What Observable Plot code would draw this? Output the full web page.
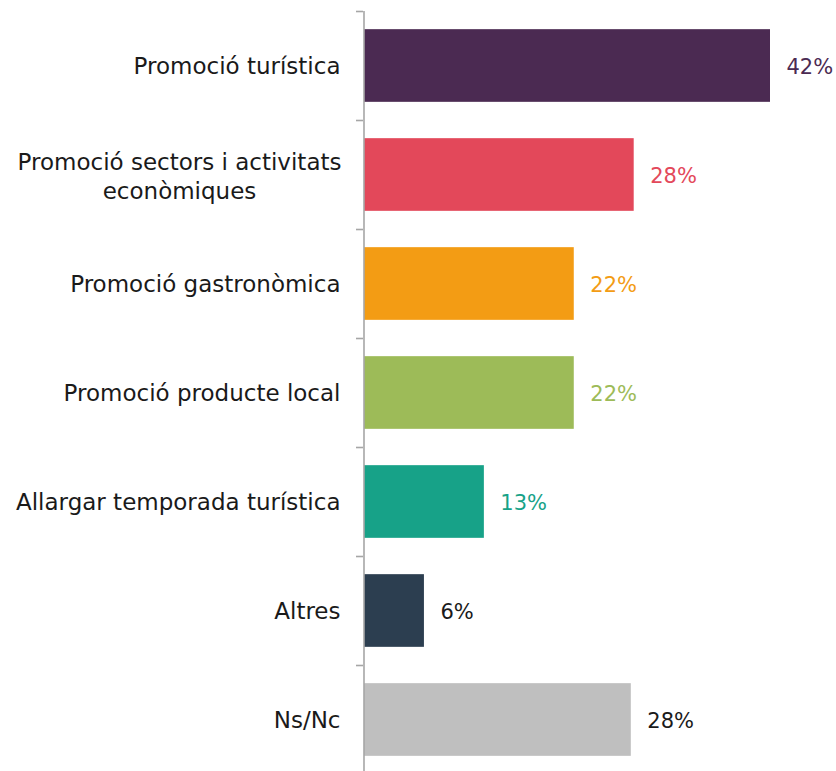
<!DOCTYPE html>
<html>
<head>
<meta charset="utf-8">
<script src="https://cdn.jsdelivr.net/npm/d3@7"></script>
<script src="https://cdn.jsdelivr.net/npm/@observablehq/plot@0.6"></script>
<style>
  html, body { margin: 0; padding: 0; background: #fff; overflow: hidden; }
</style>
</head>
<body>
<div id="chart"></div>
<script>
const categories = [
  "Promoció turística",
  "Promoció sectors i activitats\neconòmiques",
  "Promoció gastronòmica",
  "Promoció producte local",
  "Allargar temporada turística",
  "Altres",
  "Ns/Nc"
];
const values = [42, 27.9, 21.7, 21.7, 12.4, 6.2, 27.6];
const valueLabels = ["42%", "28%", "22%", "22%", "13%", "6%", "28%"];
const barColors = ["#4b2a52", "#e3485a", "#f39c14", "#9dbb58", "#17a288", "#2c3e50", "#bfbfbf"];
const labelColors = ["#4b2a52", "#e3485a", "#f39c14", "#9dbb58", "#17a288", "#1a1a1a", "#1a1a1a"];

const data = categories.map((c, i) => ({
  cat: c, value: values[i], label: valueLabels[i], bar: barColors[i], lab: labelColors[i]
}));

const FONT = "'DejaVu Sans', sans-serif";
const mTop = 11, H = 774, W = 836, mLeft = 364, mRight = 66;
const step = (H - mTop) / categories.length;

const chart = Plot.plot({
  width: W,
  height: H,
  marginLeft: mLeft,
  marginRight: mRight,
  marginTop: mTop,
  marginBottom: 0,
  style: {fontFamily: FONT, fontSize: "22px", color: "#1a1a1a", background: "#fff"},
  x: {domain: [0, 42], axis: null},
  y: {domain: categories, paddingInner: 1 / 3, paddingOuter: 1 / 6, round: false, axis: null},
  marks: [
    Plot.barX(data, {y: "cat", x: "value", fill: "bar"}),
    Plot.ruleX([0], {stroke: "#a6a6a6", strokeWidth: 1.6, dx: -0.5}),
    Plot.tickY(data, {y: "cat", stroke: "#a6a6a6", strokeWidth: 1.6, dy: -step / 2,
      insetLeft: -8, insetRight: W - mLeft - mRight + 1}),
    Plot.text(data.filter(d => !d.cat.includes("\n")), {
      y: "cat", text: "cat", frameAnchor: "left", textAnchor: "end", dx: -24, dy: 1,
      fill: "#1a1a1a", fontSize: 23
    }),
    Plot.text(data.filter(d => d.cat.includes("\n")), {
      y: "cat", text: "cat", frameAnchor: "left", textAnchor: "middle", dx: -185, dy: 0,
      fill: "#1a1a1a", fontSize: 23, lineHeight: 1.26
    }),
    Plot.text(data, {
      y: "cat", x: "value", text: "label", textAnchor: "start", dx: 16, dy: 1,
      fill: "lab", fontSize: 21
    })
  ]
});
document.getElementById("chart").appendChild(chart);
</script>
</body>
</html>
